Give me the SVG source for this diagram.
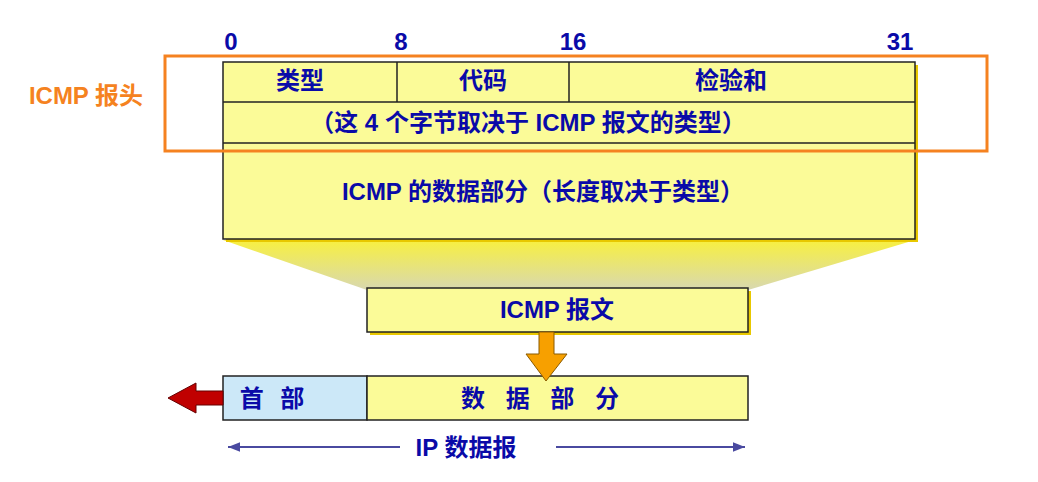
<svg xmlns="http://www.w3.org/2000/svg" width="1038" height="482" viewBox="0 0 1038 482">
<defs>
<linearGradient id="fan" x1="0" y1="0" x2="0" y2="1"><stop offset="0" stop-color="#f8f040"/><stop offset="1" stop-color="#d8d8b0"/></linearGradient>
<marker id="ah" viewBox="0 0 10 10" refX="10" refY="5" markerWidth="8" markerHeight="6" orient="auto-start-reverse"><path d="M0,1 L10,5 L0,9 z" fill="#4a4aa0"/></marker>
</defs>
<style>
text{font-family:"Liberation Sans","Noto Sans CJK SC",sans-serif;font-weight:bold;fill:#0a0aa8;font-size:24px;text-anchor:middle}
.box{fill:#fbfb98;stroke:#222;stroke-width:1.5}
.sh{fill:#e8c800}
</style>
<rect width="1038" height="482" fill="#fff"/>
<polygon points="223,240 915,240 748,290 367,290" fill="url(#fan)"/>
<g id="numbers">
<text x="231" y="50">0</text><text x="401" y="50">8</text><text x="573" y="50">16</text><text x="900" y="50">31</text>
</g>
<g id="icmp-format">
<rect class="sh" x="226" y="65" width="692" height="177"/>
<rect class="box" x="223" y="62" width="692" height="177"/>
<line x1="223" y1="102" x2="915" y2="102" stroke="#222" stroke-width="1.5"/>
<line x1="223" y1="143" x2="915" y2="143" stroke="#222" stroke-width="1.5"/>
<line x1="397" y1="62" x2="397" y2="102" stroke="#222" stroke-width="1.5"/>
<line x1="569" y1="62" x2="569" y2="102" stroke="#222" stroke-width="1.5"/>
<text x="300" y="89">类型</text><text x="483" y="89">代码</text><text x="731" y="89">检验和</text>
<text x="528" y="131">（这 4 个字节取决于 ICMP 报文的类型）</text>
<text x="543" y="200">ICMP 的数据部分（长度取决于类型）</text>
</g>
<g id="header-label">
<rect x="165" y="56" width="822" height="95" fill="none" stroke="#f58220" stroke-width="3"/>
<text x="86" y="104" style="fill:#f58220">ICMP 报头</text>
</g>
<g id="icmp-msg">
<rect class="sh" x="370" y="291" width="381" height="44"/>
<rect class="box" x="367" y="288" width="381" height="44"/>
<text x="557" y="318">ICMP 报文</text>
</g>
<g id="ip-datagram">
<rect x="223" y="376" width="144" height="44" fill="#cce8f8" stroke="#222" stroke-width="1.5"/>
<rect class="box" x="367" y="376" width="381" height="44"/>
<text x="272" y="407" style="word-spacing:10px">首 部</text>
<text x="540" y="407" style="word-spacing:14px">数 据 部 分</text>
</g>
<g id="connectors">
<polygon points="539,332 554,332 554,354 567,354 546,381 526,354 539,354" fill="#f7a000" stroke="#8a5a00" stroke-width="1"/>
<polygon points="223,391 196,391 196,383 168,398 196,413 196,405 223,405" fill="#c00000" stroke="#600" stroke-width="1"/>
<line x1="400" y1="447" x2="228" y2="447" stroke="#4a4aa0" stroke-width="2" marker-end="url(#ah)"/>
<line x1="556" y1="447" x2="745" y2="447" stroke="#4a4aa0" stroke-width="2" marker-end="url(#ah)"/>
<text x="466" y="456">IP 数据报</text>
</g>
</svg>
